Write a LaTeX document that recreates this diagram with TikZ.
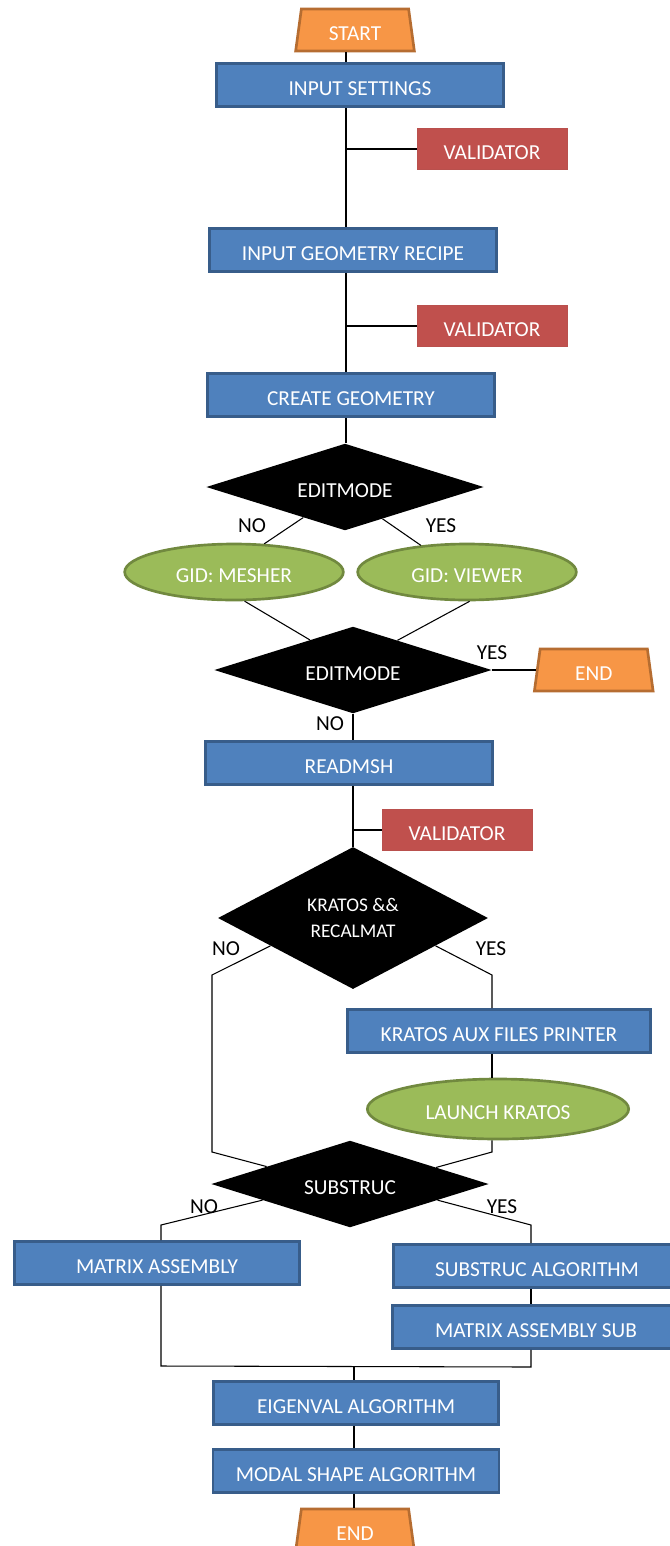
\documentclass[tikz,border=0pt]{standalone}
\usepackage{fontspec}
\setmainfont{Carlito}
\usepackage{tikz}
\usetikzlibrary{shapes.geometric,positioning,calc}
\definecolor{procfill}{HTML}{4F81BD}
\definecolor{procline}{HTML}{385D8A}
\definecolor{valfill}{HTML}{C0504D}
\definecolor{valline}{HTML}{B9504D}
\definecolor{termfill}{HTML}{F79646}
\definecolor{termline}{HTML}{B66D31}
\definecolor{progfill}{HTML}{9BBB59}
\definecolor{progline}{HTML}{71893F}

\begin{document}
\begin{tikzpicture}[x=0.75pt,y=0.75pt,
                every node/.style={font=\fontsize{16}{19}\selectfont},
                oneline/.style={text height=16pt,text depth=0pt},
                proc/.style={oneline,draw=procline,fill=procfill,line width=1.9pt,text=white,inner sep=0pt,
                        minimum width=215.5pt,minimum height=32.5pt},
                valbox/.style={oneline,draw=valline,fill=valfill,line width=0.6pt,text=white,inner sep=0pt,
                        minimum width=112.5pt,minimum height=30.5pt},
                term/.style={oneline,trapezium,trapezium stretches body,trapezium left angle=75,trapezium right angle=75,
                        draw=termline,fill=termfill,line width=2pt,text=white,inner sep=0pt,
                        minimum width=89pt,minimum height=31.5pt},
                prog/.style={oneline,ellipse,draw=progline,fill=progfill,line width=2pt,text=white,inner sep=0pt,
                        minimum width=164pt,minimum height=42pt},
                decide/.style={diamond,aspect=2,fill=black,text=white,inner sep=0pt,
                        minimum width=208pt,minimum height=65pt},
                lbl/.style={inner sep=0pt},
                link/.style={line width=0.8pt}]
        \useasboundingbox[fill=white] (0,0) rectangle (670,-1546);
        \coordinate (trunk) at (346,-30);

        \node[term] (start) at (355,-30) {START};
        \node[proc] (inset) at (360,-85) {INPUT SETTINGS};
        \node[valbox] (val1) at (492,-149) {VALIDATOR};
        \node[proc] (igeo) at (353,-250) {INPUT GEOMETRY RECIPE};
        \node[valbox] (val2) at (492,-326) {VALIDATOR};
        \node[proc] (cgeo) at (351,-395) {CREATE GEOMETRY};
        \node[decide,oneline] (edit1) at (345,-487) {EDITMODE};
        \node[prog] (mesher) at (234,-572) {GID: MESHER};
        \node[prog] (viewer) at (467,-572) {GID: VIEWER};
        \node[decide,oneline] (edit2) at (353,-670) {EDITMODE};
        \node[term,right=33pt of edit2] (end1) {END};
        \node[proc] (readmsh) at (349,-763) {READMSH};
        \node[valbox] (val3) at (457,-830) {VALIDATOR};
        \node[decide,minimum width=202.5pt,minimum height=106.5pt,font=\fontsize{14.5}{20}\selectfont,
                align=center] (kratos) at (353,-918) {KRATOS \&\&\\RECALMAT};
        \node[proc,minimum width=227.5pt] (kaux) at (499,-1031) {KRATOS AUX FILES PRINTER};
        \node[prog,minimum width=196pt,minimum height=45pt] (launch) at (498,-1109) {LAUNCH KRATOS};
        \node[decide,oneline] (substruc) at (350,-1184) {SUBSTRUC};
        \node[proc,minimum width=214pt] (massem) at (157,-1263) {MATRIX ASSEMBLY};
        \node[proc] (salgo) at (537,-1266) {SUBSTRUC ALGORITHM};
        \node[proc] (massub) at (536,-1327) {MATRIX ASSEMBLY SUB};
        \node[proc,minimum width=214pt] (eigen) at (356,-1403) {EIGENVAL ALGORITHM};
        \node[proc,minimum width=214.5pt] (modal) at (356,-1471) {MODAL SHAPE ALGORITHM};
        \node[term] (end2) at (355,-1530) {END};

        \node[lbl] (no1) at (252,-526) {NO};
        \node[lbl] (yes1) at (441,-526) {YES};
        \node[lbl] (yes2) at (492,-653) {YES};
        \node[lbl] (no2) at (330,-724) {NO};
        \node[lbl] (no3) at (226,-949) {NO};
        \node[lbl] (yes3) at (491,-949) {YES};
        \node[lbl] (no4) at (204,-1207) {NO};
        \node[lbl] (yes4) at (502,-1207) {YES};

        \coordinate (kl) at (212,-975);
        \coordinate (kl2) at (212,-1152);
        \coordinate (kr) at (492,-975);
        \coordinate (kr2) at (492,-1152);
        \coordinate (sl) at (161,-1225);
        \coordinate (sr) at (531,-1225);
        \coordinate (ml) at (161,-1366);
        \coordinate (mr) at (531,-1367);
        \coordinate (mid) at (354,-1367);

        \draw[link] (trunk |- start.south) -- (trunk |- inset.north);
        \draw[link] (trunk |- inset.south) -- (trunk |- igeo.north);
        \draw[link] (val1.west) -- (val1.west -| trunk);
        \draw[link] (trunk |- igeo.south) -- (trunk |- cgeo.north);
        \draw[link] (val2.west) -- (val2.west -| trunk);
        \draw[link] (trunk |- cgeo.south) -- (trunk |- edit1.north);
        \draw[link] ($(edit1.west)!0.7!(edit1.south)$) -- (mesher.43);
        \draw[link] ($(edit1.south)!0.27!(edit1.east)$) -- (viewer.150);
        \draw[link] (mesher.-70) -- ($(edit2.west)!0.69!(edit2.north)$);
        \draw[link] (viewer.-85) -- ($(edit2.north)!0.32!(edit2.east)$);
        \draw[link] (edit2.east) -- (end1.west);
        \draw[link] (edit2.south) -- (edit2.south |- readmsh.north);
        \draw[link] (kratos.north |- readmsh.south) -- (kratos.north);
        \draw[link] (val3.west) -- (val3.west -| kratos.north);
        \draw[link] ($(kratos.west)!0.39!(kratos.south)$) -- (kl) -- (kl2)
                -- ($(substruc.west)!0.4!(substruc.north)$);
        \draw[link] ($(kratos.east)!0.39!(kratos.south)$) -- (kr) -- (kr |- kaux.north);
        \draw[link] (kr |- kaux.south) -- (kr |- launch.north);
        \draw[link] (kr |- launch.south) -- (kr2) -- ($(substruc.east)!0.38!(substruc.north)$);
        \draw[link] ($(substruc.west)!0.37!(substruc.south)$) -- (sl) -- (sl |- massem.north);
        \draw[link] ($(substruc.east)!0.37!(substruc.south)$) -- (sr) -- (sr |- salgo.north);
        \draw[link] (sr |- salgo.south) -- (sr |- massub.north);
        \draw[link] (sl |- massem.south) -- (ml) -- (mr) -- (sr |- massub.south);
        \draw[link] (mid) -- (mid |- eigen.north);
        \draw[link] (mid |- eigen.south) -- (mid |- modal.north);
        \draw[link] (mid |- modal.south) -- (mid |- end2.north);
\end{tikzpicture}
\end{document}
